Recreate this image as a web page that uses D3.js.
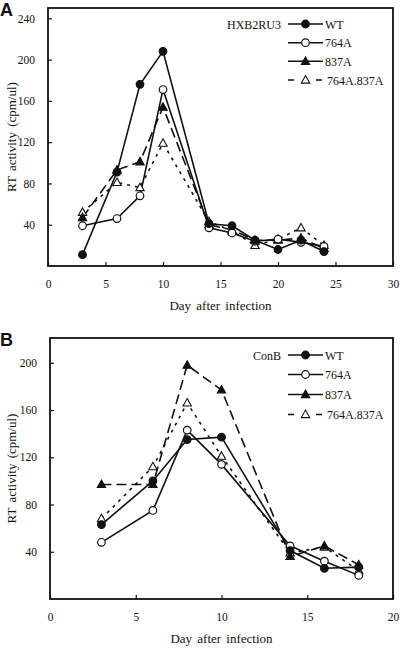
<!DOCTYPE html>
<html><head><meta charset="utf-8">
<script src="https://cdn.jsdelivr.net/npm/d3@7"></script>
<style>
html,body{margin:0;padding:0;background:#fff;}
svg{display:block;}
text{font-family:"Liberation Serif","Times New Roman",serif;fill:#111;}
</style></head>
<body>
<svg id="c" width="400" height="649"></svg>
<script>
// ---- Data ----
const seriesNames = ["WT", "764A", "837A", "764A.837A"];

const daysA = [3, 6, 8, 10, 14, 16, 18, 20, 22, 24];
const wtA      = [11, 91, 176, 208, 41, 39, 25, 16, 25, 14];
const m764A_A  = [39, 46, 68, 171, 37, 32, 24, 26, 23, 19];
const m837A_A  = [47, 93, 101, 154, 40, 35, 25, 25, 27, 17];
const m764A837A_A = [52, 81, 76, 119, 43, 34, 20, 26, 37, 20];

const daysB = [3, 6, 8, 10, 14, 16, 18];
const wtB      = [63, 100, 135, 137, 41, 26, 27];
const m764A_B  = [48, 75, 143, 114, 45, 32, 20];
const m837A_B  = [97, 97, 198, 177, 36, 45, 29];
const m764A837A_B = [68, 112, 166, 121, 39, 44, 24];

const xTicksA = [0, 5, 10, 15, 20, 25, 30];
const yTicksA = [40, 80, 120, 160, 200, 240];
const xTicksB = [0, 5, 10, 15, 20];
const yTicksB = [40, 80, 120, 160, 200];

// ---- Styles ----
const styles = {
  "WT":        {marker: "circle", fill: "#111", dash: null},
  "764A":      {marker: "circle", fill: "#fff", dash: null},
  "837A":      {marker: "triangle", fill: "#111", dash: "10,5"},
  "764A.837A": {marker: "triangle", fill: "#fff", dash: "3,5"}
};

const svg = d3.select("#c");

function drawMarker(g, type, fill, x, y) {
  if (type === "circle") {
    g.append("circle").attr("cx", x).attr("cy", y).attr("r", 3.8)
      .attr("fill", fill).attr("stroke", "#111").attr("stroke-width", 1.2);
  } else {
    const s = 4.4;
    g.append("path")
      .attr("d", `M${x},${y - s}L${x + s * 0.95},${y + s * 0.7}L${x - s * 0.95},${y + s * 0.7}Z`)
      .attr("fill", fill).attr("stroke", "#111").attr("stroke-width", 1.1);
  }
}

function panel(opts) {
  const {left, right, top, bottom, xMax, yMax, xTicks, yTicks, days, series, letter, letterY, title, legendRows} = opts;
  const x = d3.scaleLinear().domain([0, xMax]).range([left, right]);
  const y = d3.scaleLinear().domain([0, yMax]).range([bottom, top]);
  const g = svg.append("g");

  // frame
  g.append("rect").attr("x", left).attr("y", top).attr("width", right - left).attr("height", bottom - top)
    .attr("fill", "none").attr("stroke", "#111").attr("stroke-width", 1.8);

  // axes
  const xa = d3.axisBottom(x).tickValues(xTicks).tickSize(-4).tickPadding(14).tickFormat(d3.format("d"));
  const ya = d3.axisLeft(y).tickValues(yTicks).tickSize(-4).tickPadding(13).tickFormat(d3.format("d"));
  const gx = g.append("g").attr("transform", `translate(0,${bottom})`).call(xa);
  const gy = g.append("g").attr("transform", `translate(${left},0)`).call(ya);
  [gx, gy].forEach(a => {
    a.select(".domain").remove();
    a.selectAll(".tick line").attr("stroke", "#111").attr("stroke-width", 1.2);
    a.selectAll("text").style("font-family", "'Liberation Serif', serif").attr("font-size", 11.5).attr("fill", "#111");
  });

  // axis titles
  g.append("text").attr("x", (left + right) / 2).attr("y", bottom + 44)
    .attr("text-anchor", "middle").attr("font-size", 13).attr("word-spacing", 2)
    .text("Day after infection");
  g.append("text").attr("transform", `translate(16,${(top + bottom) / 2}) rotate(-90)`)
    .attr("text-anchor", "middle").attr("font-size", 13).attr("word-spacing", 2)
    .text("RT activity (cpm/ul)");

  // panel letter
  g.append("text").attr("x", 0).attr("y", letterY)
    .style("font-family", "'Liberation Sans', Arial, sans-serif")
    .style("font-weight", "bold").attr("font-size", 18).text(letter);

  // series lines (draw dashed first)
  const line = d3.line().x(d => x(d[0])).y(d => y(d[1]));
  const order = ["764A.837A", "837A", "764A", "WT"];
  order.forEach(name => {
    const st = styles[name];
    const pts = days.map((d, i) => [d, series[name][i]]);
    g.append("path").datum(pts).attr("d", line).attr("fill", "none")
      .attr("stroke", "#111").attr("stroke-width", 1.6)
      .attr("stroke-dasharray", st.dash);
  });
  order.forEach(name => {
    const st = styles[name];
    const mg = g.append("g");
    days.forEach((d, i) => drawMarker(mg, st.marker, st.fill, x(d), y(series[name][i])));
  });

  // legend
  const lg = g.append("g");
  lg.append("text").attr("x", 281).attr("y", legendRows[0] + 4.5).attr("text-anchor", "end")
    .attr("font-size", 12).text(title);
  seriesNames.forEach((name, i) => {
    const st = styles[name];
    const yy = legendRows[i];
    lg.append("line").attr("x1", 288).attr("x2", 323).attr("y1", yy).attr("y2", yy)
      .attr("stroke", "#111").attr("stroke-width", 1.6)
      .attr("stroke-dasharray", name === "764A.837A" ? "6,22" : null);
    drawMarker(lg, st.marker, st.fill, 305.5, yy);
    lg.append("text").attr("x", name === "764A.837A" ? 327 : 325).attr("y", yy + 4.5)
      .attr("font-size", 12).text(name);
  });
}

panel({
  left: 48, right: 393, top: 8, bottom: 266, xMax: 30, yMax: 250,
  xTicks: xTicksA, yTicks: yTicksA, days: daysA,
  series: {"WT": wtA, "764A": m764A_A, "837A": m837A_A, "764A.837A": m764A837A_A},
  letter: "A", letterY: 16, title: "HXB2RU3", legendRows: [24, 42.7, 61.3, 80]
});
panel({
  left: 50, right: 393, top: 338, bottom: 599, xMax: 20, yMax: 221,
  xTicks: xTicksB, yTicks: yTicksB, days: daysB,
  series: {"WT": wtB, "764A": m764A_B, "837A": m837A_B, "764A.837A": m764A837A_B},
  letter: "B", letterY: 346, title: "ConB", legendRows: [355, 374.5, 394.5, 414.5]
});
</script>
</body></html>
